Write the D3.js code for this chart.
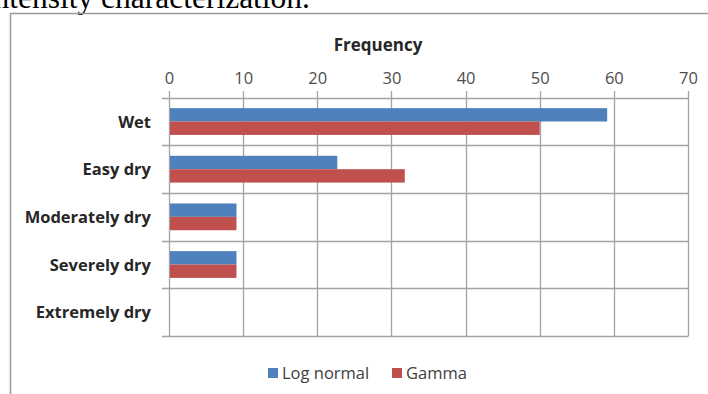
<!DOCTYPE html>
<html><head><meta charset="utf-8">
<script src="https://cdn.jsdelivr.net/npm/d3@7"></script>
<style>body{margin:0;background:#fff;}svg{display:block;}</style>
</head><body>
<script>
const categories = ["Wet", "Easy dry", "Moderately dry", "Severely dry", "Extremely dry"];
const seriesNames = ["Log normal", "Gamma"];
const logNormal = [59.1, 22.7, 9.1, 9.1, 0];
const gamma = [50, 31.8, 9.1, 9.1, 0];
const xTicks = [0, 10, 20, 30, 40, 50, 60, 70];
const colors = ["#4f81bd", "#c0504d"];
const axisTitle = "Frequency";
const headerText = "intensity characterization.";

const W = 708, H = 394;
const svg = d3.select("body").append("svg").attr("width", W).attr("height", H);
svg.append("rect").attr("width", W).attr("height", H).attr("fill", "#fff");

// cut-off document text at top (cropped in the reference too)
svg.append("text").attr("x", 310).attr("y", 8).attr("text-anchor", "end")
  .attr("font-family", "Liberation Serif").attr("font-size", 31.5).attr("fill", "#000")
  .text(headerText);

// chart frame
svg.append("path").attr("d", `M10.5,${H} V13.5 H${W}`).attr("fill", "none")
  .attr("stroke", "#9a9a9a").attr("stroke-width", 1.5);

const x = d3.scaleLinear().domain([0, 70]).range([169, 688]);
const y0 = d3.scaleBand().domain(categories).range([97.7, 336]).padding(0);
const y1 = d3.scaleBand().domain(seriesNames).range([0, y0.bandwidth()]).paddingInner(0).paddingOuter(0.78);

const gridColor = "#a3a3a3";
svg.append("g").selectAll("line").data(xTicks).join("line")
  .attr("x1", d => Math.round(x(d)) + 0.5).attr("x2", d => Math.round(x(d)) + 0.5)
  .attr("y1", 91).attr("y2", 336).attr("stroke", gridColor).attr("stroke-width", 1.3);
const bounds = categories.map(c => y0(c)).concat([y0.range()[1]]);
svg.append("g").selectAll("line").data(bounds).join("line")
  .attr("x1", 162).attr("x2", 688.5)
  .attr("y1", d => Math.round(d) + 0.5).attr("y2", d => Math.round(d) + 0.5)
  .attr("stroke", gridColor).attr("stroke-width", 1.3);

const data = categories.map((c, i) => ({cat: c, vals: [logNormal[i], gamma[i]]}));
const groups = svg.append("g").selectAll("g").data(data).join("g")
  .attr("transform", d => `translate(0,${y0(d.cat)})`);
groups.selectAll("rect").data(d => d.vals.map((v, j) => ({v, j}))).join("rect")
  .attr("x", x(0) + 1).attr("y", d => y1(seriesNames[d.j]))
  .attr("width", d => Math.max(0, x(d.v) - x(0) - 1)).attr("height", y1.bandwidth())
  .attr("fill", d => colors[d.j]);

const xAxis = d3.axisTop(x).tickValues(xTicks).tickSize(0).tickPadding(0);
const gx = svg.append("g").attr("transform", "translate(0,84)").call(xAxis);
gx.select(".domain").remove();
gx.selectAll("text").attr("font-family", "Open Sans").attr("font-size", 16.5).attr("fill", "#4d4d4d");

const yAxis = d3.axisLeft(y0).tickSize(0).tickPadding(0);
const gy = svg.append("g").attr("transform", "translate(151,1)").call(yAxis);
gy.select(".domain").remove();
gy.selectAll("text").attr("font-family", "Open Sans").attr("font-weight", "bold")
  .attr("font-size", 16.5).attr("fill", "#262626");

svg.append("text").attr("x", 378).attr("y", 51).attr("text-anchor", "middle")
  .attr("font-family", "Open Sans").attr("font-weight", "bold").attr("font-size", 17)
  .attr("fill", "#262626").text(axisTitle);

const legendX = [268, 392];
const lg = svg.append("g").selectAll("g").data(seriesNames).join("g")
  .attr("transform", (d, i) => `translate(${legendX[i]},368)`);
lg.append("rect").attr("width", 10).attr("height", 10).attr("fill", (d, i) => colors[i]);
lg.append("text").attr("x", 14).attr("y", 10.5).attr("font-family", "Open Sans")
  .attr("font-size", 16.5).attr("fill", "#404040").text(d => d);
</script>
</body></html>
